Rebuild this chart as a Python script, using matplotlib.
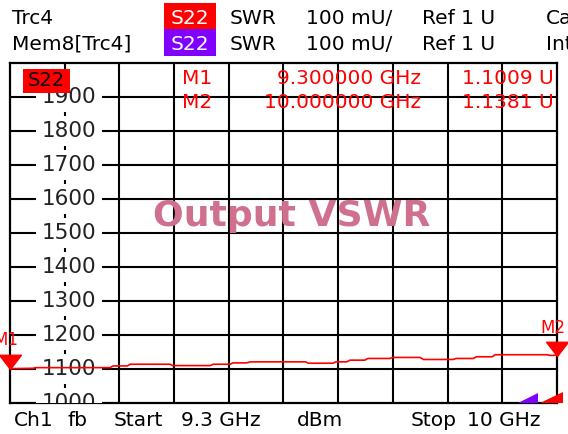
import numpy as np
import matplotlib.pyplot as plt
from matplotlib.patches import Rectangle, Polygon
from matplotlib.path import Path

plt.rcParams['font.family'] = ['DejaVu Sans']

# trace S22 SWR (values in mU)
freq = [9.300, 9.329, 9.333, 9.428, 9.432, 9.450, 9.454, 9.505, 9.508, 9.556,
        9.560, 9.582, 9.585, 9.603, 9.607, 9.678, 9.682, 9.713, 9.717, 9.731,
        9.735, 9.754, 9.758, 9.786, 9.790, 9.825, 9.829, 9.867, 9.871, 9.893,
        9.897, 9.917, 9.921, 9.987, 9.991, 9.995, 10.000]
swr = [1101, 1102, 1104, 1104, 1109, 1109, 1114, 1114, 1110, 1110,
       1114, 1114, 1118, 1118, 1121, 1121, 1117, 1117, 1121, 1121,
       1126, 1126, 1131, 1131, 1134, 1134, 1128, 1128, 1131, 1131,
       1136, 1136, 1142, 1142, 1140, 1140, 1141]

marker_names = ['M1', 'M2']
marker_freq = [9.3, 10.0]
marker_val = [1100.9, 1138.1]
marker_freq_txt = ['9.300000 GHz', '10.000000 GHz']
marker_val_txt = ['1.1009 U', '1.1381 U']

f_start, f_stop = 9.3, 10.0
y_ticks = [1000, 1100, 1200, 1300, 1400, 1500, 1600, 1700, 1800, 1900]

W, H = 568, 434
fig = plt.figure(figsize=(W / 100, H / 100), dpi=100)
ax = fig.add_axes([10 / W, 31 / H, 547 / W, 340 / H])
ax.set_xlim(f_start, f_stop)
ax.set_ylim(1000, 2000)
ax.set_xticks([])
ax.set_yticks([])
for s in ax.spines.values():
    s.set_linewidth(1.6)
    s.set_color('black')

def px(x, y):
    return x / W, 1 - y / H

RED = '#ff0000'
PURPLE = '#7f00ff'

# grid
step = (f_stop - f_start) / 10
xg = [f_start + k * step for k in range(11)]
for k, x in enumerate(xg):
    if k in (0, 1, 10):
        continue
    ax.axvline(x, color='black', lw=1.5, zorder=2)
for y in range(1100, 2000, 100):
    ax.axhline(y, color='black', lw=1.5, zorder=2)

# scale labels in the second column with short dashes between them
xl = f_start + 0.0755
for y in y_ticks:
    ax.text(xl, y, str(y), ha='center', va='center', fontsize=15.5, color='#222222',
            zorder=3, clip_on=True,
            bbox=dict(boxstyle='square,pad=0.28', fc='white', ec='none'))
mids = np.array(y_ticks[:-1]) + 50
ax.vlines([xg[1]] * len(mids), mids - 7, mids + 7, color='black', lw=1.5, zorder=4)
ax.vlines(xg[1], 1970, 2000, color='black', lw=1.5, zorder=4)

ax.plot(freq, swr, color=RED, lw=1.2, zorder=5)

# marker triangles (tip on trace)
tri = Path([(-1, 1.3), (1, 1.3), (0, 0), (-1, 1.3)],
           [Path.MOVETO, Path.LINETO, Path.LINETO, Path.CLOSEPOLY])
ax.plot(marker_freq, marker_val, ls='none', marker=tri, ms=20.5, color=RED,
        mec=RED, clip_on=False, zorder=6)
for name, f, v in zip(marker_names, marker_freq, marker_val):
    ax.annotate(name, (f, v), xytext=(-3, 14), textcoords='offset points',
                ha='center', va='bottom', color=RED, fontsize=12,
                annotation_clip=False, zorder=6)

# marker table
fs = 14.5
for i, name in enumerate(marker_names):
    yy = 78 + i * 24
    fig.text(*px(182, yy), name, color=RED, fontsize=fs, va='center', ha='left')
    fig.text(*px(421, yy), marker_freq_txt[i], color=RED, fontsize=fs, va='center', ha='right')
    fig.text(*px(554, yy), marker_val_txt[i], color=RED, fontsize=fs, va='center', ha='right')

# trace tag inside diagram
ax.add_patch(Rectangle((13 / 547, 310 / 340), 47 / 547, 24 / 340, transform=ax.transAxes,
                       fc=RED, ec='none', zorder=7))
ax.text(36.5 / 547, 322 / 340, 'S22', transform=ax.transAxes, ha='center', va='center',
        fontsize=14, color='black', zorder=8)

ax.text(0.515, (403 - 216) / 340, 'Output VSWR', transform=ax.transAxes, ha='center',
        va='center', fontsize=26, fontweight='bold', color='#d0708f', zorder=5)

# scale limit wedges bottom right
ax.add_patch(Polygon([(508 / 547, 0), (528 / 547, 0), (528 / 547, 10 / 340)],
                     closed=True, transform=ax.transAxes, fc=PURPLE, ec='none',
                     clip_on=False, zorder=6))
ax.add_patch(Polygon([(530 / 547, 0), (553 / 547, 0), (553 / 547, 11 / 340)],
                     closed=True, transform=ax.transAxes, fc=RED, ec='none',
                     clip_on=False, zorder=6))

# header
fig.text(*px(12, 18), 'Trc4', fontsize=fs, va='center')
fig.text(*px(12, 44), 'Mem8[Trc4]', fontsize=fs, va='center')
fig.patches.append(Rectangle(px(164, 29), 52 / W, 26 / H, transform=fig.transFigure,
                             fc=RED, ec='none'))
fig.patches.append(Rectangle(px(164, 56), 52 / W, 27 / H, transform=fig.transFigure,
                             fc=PURPLE, ec='none'))
for yy in (18, 44):
    fig.text(*px(190, yy), 'S22', fontsize=fs, va='center', ha='center', color='white')
    fig.text(*px(230, yy), 'SWR', fontsize=fs, va='center')
    fig.text(*px(306, yy), '100 mU/', fontsize=fs, va='center')
    fig.text(*px(422, yy), 'Ref 1 U', fontsize=fs, va='center')
fig.text(*px(546, 18), 'Cal', fontsize=fs, va='center')
fig.text(*px(546, 44), 'Int', fontsize=fs, va='center')

# footer
for x, s in [(14, 'Ch1'), (67, 'fb'), (114, 'Start'), (181, '9.3 GHz'),
             (297, 'dBm'), (411, 'Stop'), (467, '10 GHz')]:
    fig.text(*px(x, 421), s, fontsize=fs, va='center')

fig.savefig('out.png', dpi=100)
